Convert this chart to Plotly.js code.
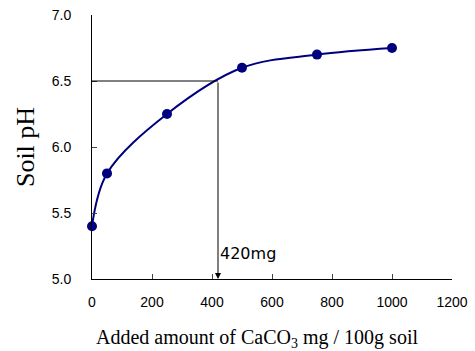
<!DOCTYPE html>
<html>
<head>
<meta charset="utf-8">
<script src="https://cdn.plot.ly/plotly-3.0.1.min.js"></script>
<style>html,body{margin:0;padding:0;background:#fff;}#chart{width:475px;height:351px;}</style>
</head>
<body>
<div id="chart"></div>
<script>
// Data
const caco3Amount = [0, 50, 250, 500, 750, 1000];
const soilPH = [5.4, 5.8, 6.25, 6.6, 6.7, 6.75];
const targetPH = [6.5];
const requiredAmount = [420];
const requiredLabel = ['420mg'];
const xTitle = 'Added amount of CaCO<sub>3</sub> mg / 100g soil';
const yTitle = 'Soil pH';
const xTickValues = [0, 200, 400, 600, 800, 1000, 1200];
const yTickValues = [5.0, 5.5, 6.0, 6.5, 7.0];

const trace = {
  x: caco3Amount,
  y: soilPH,
  type: 'scatter',
  mode: 'lines+markers',
  line: {shape: 'spline', smoothing: 1, color: '#00007f', width: 2},
  marker: {size: 10, color: '#00007f'},
  cliponaxis: false,
  hoverinfo: 'skip'
};

const layout = {
  width: 475, height: 351,
  margin: {l: 92, r: 23, t: 15, b: 72},
  paper_bgcolor: '#fff', plot_bgcolor: '#fff',
  showlegend: false,
  font: {family: '"Liberation Sans", Arial, sans-serif', size: 14, color: '#000'},
  xaxis: {
    range: [0, 1200], tickvals: xTickValues, ticktext: xTickValues.map(String),
    showgrid: false, zeroline: false, showline: true, linecolor: '#000', linewidth: 1,
    ticks: 'inside', ticklen: 5, tickcolor: '#444', tickwidth: 1,
    ticklabelstandoff: 10,
    tickfont: {size: 14, color: '#000'}
  },
  yaxis: {
    range: [5, 7], tickvals: yTickValues, ticktext: yTickValues.map(v => v.toFixed(1)),
    showgrid: false, zeroline: false, showline: true, linecolor: '#000', linewidth: 1,
    ticks: 'inside', ticklen: 5, tickcolor: '#444', tickwidth: 1,
    ticklabelstandoff: 17,
    tickfont: {size: 14, color: '#000'},
    title: {text: yTitle, standoff: 9,
      font: {family: '"Liberation Serif", "Times New Roman", serif', size: 26, color: '#000'}}
  },
  shapes: [{
    type: 'line', xref: 'x', yref: 'y',
    x0: caco3Amount[0], x1: requiredAmount[0], y0: targetPH[0], y1: targetPH[0],
    line: {color: '#000', width: 1}
  }],
  annotations: [
    {
      xref: 'x', yref: 'y', axref: 'x', ayref: 'y',
      x: requiredAmount[0], y: 5, ax: requiredAmount[0], ay: targetPH[0],
      text: '', showarrow: true, arrowhead: 2, arrowsize: 1.2, arrowwidth: 1, arrowcolor: '#000', standoff: 0
    },
    {
      xref: 'x', yref: 'y', x: requiredAmount[0], y: 5.195,
      text: requiredLabel[0], showarrow: false, xanchor: 'left', yanchor: 'middle', xshift: 0,
      font: {family: '"DejaVu Sans", sans-serif', size: 16, color: '#000'}
    },
    {
      xref: 'paper', yref: 'paper', x: 0.458, y: -0.225,
      text: xTitle, showarrow: false, xanchor: 'center', yanchor: 'middle',
      font: {family: '"Liberation Serif", "Times New Roman", serif', size: 20, color: '#000'}
    }
  ]
};

Plotly.newPlot('chart', [trace], layout, {displayModeBar: false, staticPlot: true});
</script>
</body>
</html>
